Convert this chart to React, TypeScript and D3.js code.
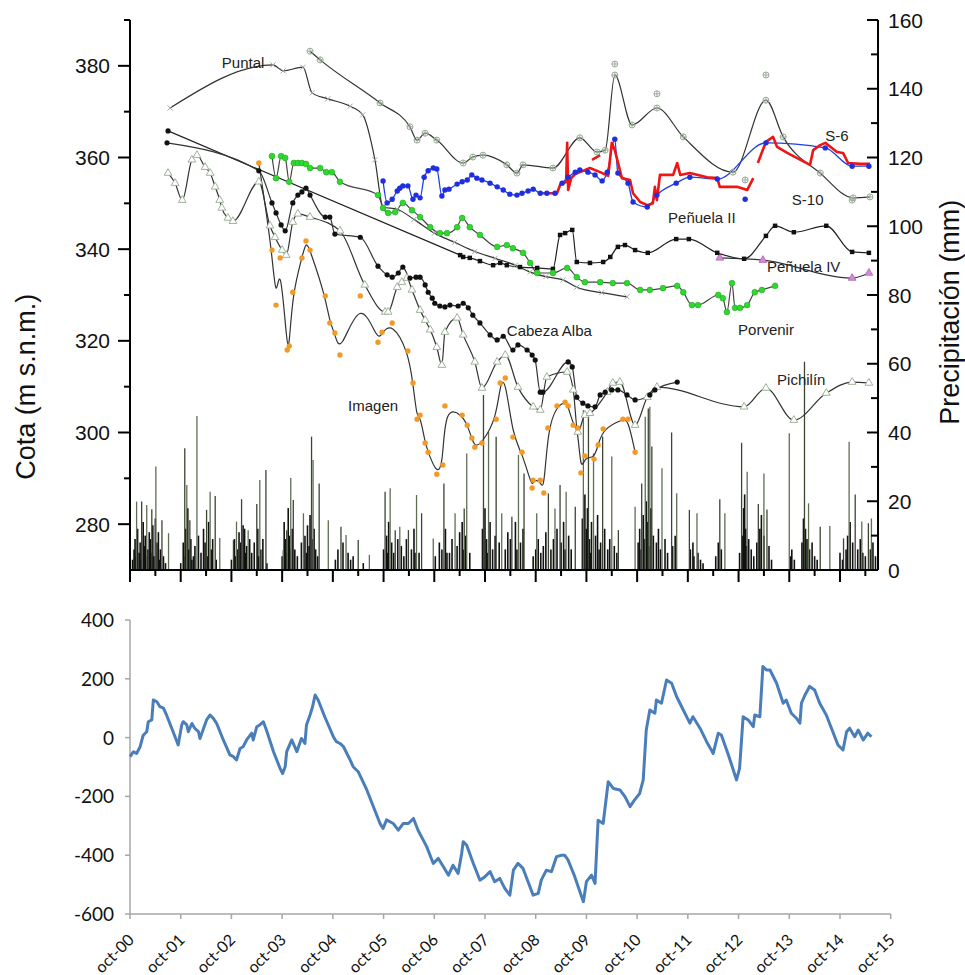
import React from 'react';
import * as d3 from 'd3';

type P = [number, number];

// time axis: years counted from oct-2000; levels in m s.n.m.
const puntal: P[] = [[0.79, 370.8], [2.82, 380.2], [3.02, 378.9], [3.41, 379.7], [3.59, 374.1], [3.9, 372.8], [4.34, 371.2], [4.59, 369.3], [4.83, 359.5], [4.99, 349.2], [5.27, 348.7], [5.6, 346.5], [6.0, 343.5], [6.4, 341.5], [6.8, 339.5], [7.2, 338.0], [7.6, 336.5], [7.89, 335.0], [8.2, 334.0], [8.54, 333.3], [8.81, 331.7], [9.3, 330.5], [9.8, 329.6]];

const s10: P[] = [[3.55, 383.2], [3.75, 381.3], [4.93, 371.9], [5.52, 366.7], [5.66, 363.8], [5.82, 365.3], [6.05, 363.8], [6.57, 358.8], [6.76, 360.1], [6.96, 360.5], [7.43, 358.4], [7.63, 356.6], [7.75, 358.4], [8.34, 357.7], [8.87, 364.3], [9.21, 361.2], [9.37, 361.6], [9.56, 378.0], [9.9, 367.1], [10.39, 370.8], [10.91, 364.5], [11.89, 356.8], [12.54, 372.5], [12.88, 364.5], [13.61, 356.6], [14.26, 351.2], [14.59, 351.4]];
const s10Extra: P[] = [[9.56, 380.4], [10.39, 373.9], [12.54, 378.0], [12.13, 355.1], [14.24, 350.7]];

const s6Manual: P[] = [[4.99, 354.9], [5.07, 350.1], [5.17, 350.9], [5.27, 352.7], [5.32, 353.3], [5.38, 353.8], [5.48, 353.8], [5.58, 350.9], [5.64, 351.8], [5.72, 351.2], [5.8, 355.7], [5.88, 357.1], [5.98, 357.7], [6.05, 357.5], [6.15, 351.6], [6.21, 352.9], [6.29, 353.1], [6.45, 354.2], [6.55, 354.7], [6.65, 355.1], [6.74, 356.2], [6.84, 355.5], [6.94, 355.1], [7.1, 354.4], [7.24, 353.6], [7.36, 352.9], [7.49, 352.0], [7.63, 351.8], [7.73, 352.2], [7.85, 352.7], [7.95, 353.1], [8.09, 352.2], [8.22, 352.2], [8.38, 352.2], [8.52, 354.4], [8.64, 355.7], [8.78, 356.8], [8.87, 357.3], [9.03, 356.8], [9.17, 356.2], [9.31, 354.9], [9.41, 356.8], [9.56, 364.0], [9.62, 356.6], [9.82, 354.4], [9.92, 350.3], [10.2, 349.2], [10.39, 351.8], [10.77, 354.4], [11.04, 355.7], [11.58, 355.3], [12.54, 363.2], [13.71, 362.1], [14.24, 358.1], [14.57, 358.1]];
const s6ManualOff: P[] = [[12.13, 350.9]];

const s6Logger: P[] = [[8.14, 352.2], [8.42, 352.2], [8.48, 354.0], [8.6, 354.7], [8.62, 363.2], [8.64, 352.9], [8.7, 355.5], [8.78, 356.4], [8.87, 356.8], [9.07, 357.7], [9.27, 356.8], [9.43, 356.0], [9.5, 363.2], [9.56, 361.6], [9.7, 355.5], [9.86, 355.1], [9.92, 352.2], [10.06, 350.3], [10.2, 349.6], [10.31, 350.0], [10.35, 353.6], [10.39, 350.7], [10.45, 356.2], [10.71, 356.2], [10.79, 358.8], [10.85, 356.2], [11.04, 356.6], [11.38, 355.7], [11.58, 355.5], [11.63, 353.6], [11.97, 353.6], [12.17, 352.9], [12.29, 355.5]];
const s6LoggerShort: P[] = [[9.11, 359.5], [9.27, 360.5]];
const s6LoggerEnd: P[] = [[12.38, 358.8], [12.54, 363.4], [12.68, 364.5], [12.76, 362.3], [12.96, 361.0], [13.41, 358.4], [13.47, 361.6], [13.61, 362.7], [13.71, 363.2], [13.94, 361.2], [14.06, 361.0], [14.16, 358.8], [14.4, 358.6], [14.59, 358.6]];

const porvenir: P[] = [[2.8, 360.3], [2.88, 355.5], [2.98, 360.3], [3.06, 359.9], [3.14, 354.7], [3.23, 358.8], [3.31, 358.8], [3.39, 358.8], [3.47, 358.6], [3.55, 357.7], [3.75, 357.7], [3.87, 356.8], [3.98, 356.8], [4.14, 354.7], [4.89, 351.8], [4.99, 349.0], [5.09, 347.9], [5.23, 348.1], [5.38, 350.1], [5.56, 348.5], [5.72, 347.0], [5.92, 344.8], [6.11, 343.5], [6.25, 343.5], [6.45, 344.8], [6.55, 346.8], [6.7, 344.8], [6.9, 343.1], [7.24, 340.5], [7.43, 340.9], [7.55, 340.2], [7.75, 339.2], [7.89, 337.0], [8.03, 334.8], [8.34, 334.8], [8.62, 335.9], [8.81, 333.9], [8.97, 332.8], [9.27, 332.8], [9.52, 332.6], [9.8, 332.6], [10.06, 331.1], [10.25, 331.1], [10.51, 331.5], [10.79, 332.0], [10.91, 330.6], [11.08, 327.8], [11.2, 327.8], [11.6, 330.0], [11.69, 329.3], [11.77, 326.3], [11.87, 332.6], [11.93, 327.2], [12.03, 327.2], [12.17, 327.8], [12.32, 330.6], [12.46, 331.1], [12.72, 332.0]];

const penuela2: P[] = [[0.75, 365.8], [6.51, 338.7], [6.57, 338.3], [6.7, 338.1], [6.9, 337.4], [7.16, 336.5], [7.3, 337.0], [7.43, 336.5], [7.69, 336.1], [8.03, 335.9], [8.34, 335.7], [8.48, 343.1], [8.58, 343.5], [8.72, 344.2], [8.81, 337.2], [9.07, 337.0], [9.33, 337.2], [9.47, 338.3], [9.62, 340.5], [9.76, 340.9], [9.96, 339.8], [10.21, 339.2], [10.77, 342.2], [11.02, 342.2], [11.58, 339.2], [12.11, 337.9], [12.54, 342.9], [12.72, 345.1], [13.09, 343.7], [13.73, 345.1], [14.24, 339.4], [14.57, 339.2]];

const penuela4: P[] = [[11.63, 338.1], [12.48, 337.6], [14.24, 333.7], [14.57, 334.8]];

const cabezaAlba: P[] = [[0.73, 363.2], [2.54, 357.1], [2.8, 350.1], [2.88, 347.9], [2.98, 345.3], [3.06, 344.0], [3.21, 350.1], [3.31, 351.8], [3.39, 352.5], [3.47, 353.3], [3.55, 351.8], [3.85, 347.0], [3.94, 347.0], [4.04, 343.3], [4.54, 342.6], [4.89, 336.3], [5.07, 334.4], [5.17, 333.9], [5.29, 334.8], [5.38, 336.1], [5.52, 333.7], [5.64, 333.9], [5.72, 333.9], [5.82, 332.2], [5.88, 330.6], [5.96, 329.3], [6.01, 328.2], [6.11, 327.6], [6.21, 327.4], [6.31, 327.8], [6.47, 327.6], [6.57, 328.2], [6.67, 327.2], [6.76, 325.6], [6.9, 323.9], [7.1, 321.3], [7.24, 320.2], [7.36, 321.0], [7.55, 318.0], [7.65, 319.1], [7.83, 318.0], [7.93, 316.9], [7.99, 315.8], [8.09, 308.8], [8.14, 308.8], [8.64, 315.4], [8.72, 314.3], [8.81, 307.7], [8.93, 306.4], [9.03, 305.8], [9.17, 305.6], [9.27, 308.2], [9.37, 308.8], [9.5, 309.3], [9.62, 309.3], [9.8, 308.2], [9.96, 307.1], [10.25, 308.2], [10.35, 309.3], [10.79, 311.0]];

const pichilin: P[] = [[0.75, 356.6], [0.89, 354.4], [1.03, 350.7], [1.22, 359.5], [1.32, 360.5], [1.48, 357.9], [1.58, 356.6], [1.68, 353.6], [1.77, 350.7], [1.81, 349.0], [1.93, 346.8], [2.03, 346.1], [2.54, 354.7], [2.76, 345.1], [2.86, 342.6], [3.0, 339.8], [3.08, 338.7], [3.21, 345.9], [3.31, 347.7], [3.55, 347.0], [4.14, 344.0], [4.63, 332.2], [5.03, 326.3], [5.09, 326.3], [5.27, 331.7], [5.36, 332.8], [5.46, 333.7], [5.56, 331.1], [5.72, 326.7], [5.82, 324.5], [5.92, 322.4], [6.05, 318.6], [6.15, 314.7], [6.21, 321.9], [6.45, 325.0], [6.57, 321.3], [6.8, 315.4], [6.94, 309.7], [7.24, 315.4], [7.4, 316.9], [7.65, 309.9], [7.95, 305.6], [8.09, 304.9], [8.22, 312.1], [8.62, 313.2], [8.74, 309.3], [8.83, 300.1], [8.97, 303.8], [9.07, 304.2], [9.41, 308.8], [9.52, 310.8], [9.66, 311.0], [9.96, 301.6], [10.2, 307.7], [10.39, 309.9], [12.11, 305.6], [12.54, 309.7], [13.09, 302.7], [13.73, 308.6], [14.24, 311.0], [14.57, 310.8]];

const imagen: P[] = [[2.54, 358.8], [2.8, 339.8], [2.88, 327.8], [2.96, 338.1], [3.1, 318.0], [3.14, 318.9], [3.21, 330.6], [3.39, 338.1], [3.47, 341.8], [3.55, 339.8], [3.85, 329.8], [3.94, 323.9], [4.04, 321.7], [4.14, 316.9], [4.54, 329.8], [4.89, 319.7], [4.97, 321.9], [5.17, 323.9], [5.48, 317.8], [5.58, 310.8], [5.66, 302.9], [5.72, 303.8], [5.82, 297.7], [5.88, 295.7], [6.05, 290.9], [6.17, 292.9], [6.21, 305.8], [6.55, 303.8], [6.65, 301.6], [6.74, 298.8], [6.8, 296.8], [6.94, 297.7], [7.22, 302.9], [7.3, 310.8], [7.4, 311.9], [7.55, 299.0], [7.73, 295.7], [7.93, 287.9], [7.95, 289.6], [8.09, 289.6], [8.16, 286.8], [8.24, 301.0], [8.42, 305.8], [8.58, 306.6], [8.64, 305.8], [8.74, 301.6], [8.83, 301.0], [8.89, 291.2], [8.97, 294.9], [9.15, 294.2], [9.23, 297.3], [9.33, 300.8], [9.72, 302.9], [9.82, 302.9], [9.96, 295.7]];

// daily rain (mm), largest events and the smaller ones of each wet season
const rainBig: P[] = [[0.13, 19.9], [0.23, 19.9], [0.33, 18.9], [0.43, 17.7], [0.51, 30.1], [0.63, 14.5], [0.76, 10.7], [1.08, 35.4], [1.12, 24.7], [1.18, 14.5], [1.32, 44.8], [1.51, 17.5], [1.58, 22.8], [1.68, 21.5], [1.77, 9.3], [2.04, 8.7], [2.1, 14.1], [2.2, 20.6], [2.33, 11.6], [2.5, 19.2], [2.56, 26.2], [2.68, 29.1], [3.02, 5.8], [3.09, 11.6], [3.17, 26.8], [3.22, 20.4], [3.42, 16.5], [3.58, 38.8], [3.61, 32.0], [3.73, 25.2], [3.91, 14.5], [4.16, 12.6], [4.26, 10.2], [4.5, 8.7], [4.72, 4.4], [5.03, 22.8], [5.13, 23.8], [5.23, 11.6], [5.32, 12.6], [5.49, 11.6], [5.65, 21.8], [5.75, 16.5], [5.98, 9.2], [6.19, 25.2], [6.41, 16.5], [6.59, 17.9], [6.64, 33.9], [6.97, 50.9], [7.07, 40.2], [7.22, 38.8], [7.33, 16.5], [7.53, 15.5], [7.66, 33.5], [7.77, 28.1], [8.02, 16.5], [8.25, 22.3], [8.38, 17.9], [8.48, 24.7], [8.6, 22.8], [8.78, 18.4], [8.94, 46.5], [9.04, 45.1], [9.14, 33.9], [9.32, 38.8], [9.5, 33.0], [9.63, 11.6], [9.96, 18.4], [10.09, 25.2], [10.16, 44.6], [10.22, 47.0], [10.25, 47.5], [10.29, 35.9], [10.49, 29.6], [10.68, 40.0], [10.78, 22.3], [11.03, 17.5], [11.18, 16.5], [11.63, 20.6], [11.73, 16.5], [12.06, 37.0], [12.17, 28.6], [12.39, 19.2], [12.5, 28.1], [12.56, 17.6], [13.0, 39.8], [13.3, 60.6], [13.38, 19.4], [13.61, 12.6], [13.8, 12.8], [14.07, 9.2], [14.18, 37.3], [14.3, 22.0], [14.43, 14.1], [14.56, 13.6], [14.62, 15.0]];

const rainSmall: P[] = [[0.05, 3], [0.08, 6], [0.1, 9], [0.12, 4], [0.15, 12], [0.18, 5], [0.2, 8], [0.22, 3], [0.26, 14], [0.28, 7], [0.3, 10], [0.32, 4], [0.35, 6], [0.38, 11], [0.4, 9], [0.42, 5], [0.45, 13], [0.47, 4], [0.5, 15], [0.53, 8], [0.56, 11], [0.58, 3], [0.6, 6], [0.66, 4], [0.7, 2],
  [1.0, 2], [1.05, 8], [1.07, 4], [1.1, 12], [1.14, 18], [1.16, 6], [1.2, 9], [1.22, 3], [1.25, 4], [1.28, 7], [1.35, 10], [1.4, 5], [1.45, 12], [1.48, 8], [1.53, 4], [1.55, 14], [1.6, 6], [1.63, 9], [1.7, 3],
  [2.0, 3], [2.06, 9], [2.08, 4], [2.12, 6], [2.15, 11], [2.18, 8], [2.23, 13], [2.26, 12], [2.28, 5], [2.3, 7], [2.36, 9], [2.4, 5], [2.45, 8], [2.52, 12], [2.54, 4], [2.58, 6], [2.62, 9], [2.7, 2],
  [3.0, 4], [3.04, 14], [3.06, 9], [3.08, 5], [3.12, 18], [3.14, 10], [3.16, 6], [3.2, 12], [3.25, 6], [3.3, 4], [3.38, 8], [3.45, 10], [3.48, 5], [3.5, 13], [3.53, 7], [3.55, 16], [3.6, 9], [3.63, 12], [3.66, 6], [3.7, 4],
  [4.05, 3], [4.1, 6], [4.2, 8], [4.3, 5], [4.35, 3], [4.4, 4], [4.6, 2],
  [5.0, 6], [5.06, 10], [5.08, 5], [5.1, 14], [5.16, 8], [5.2, 5], [5.28, 9], [5.35, 7], [5.4, 4], [5.45, 9], [5.55, 6], [5.6, 12], [5.62, 5], [5.7, 5],
  [6.02, 4], [6.1, 8], [6.15, 6], [6.22, 12], [6.25, 5], [6.3, 5], [6.35, 9], [6.45, 7], [6.5, 11], [6.55, 14], [6.57, 6], [6.62, 10], [6.7, 5],
  [6.95, 12], [7.0, 18], [7.03, 9], [7.05, 5], [7.1, 14], [7.15, 6], [7.2, 10], [7.28, 8], [7.4, 6], [7.45, 11], [7.5, 9], [7.6, 14], [7.63, 6], [7.7, 8], [7.75, 12],
  [7.95, 4], [8.0, 6], [8.05, 9], [8.1, 5], [8.15, 7], [8.2, 11], [8.3, 6], [8.35, 9], [8.42, 12], [8.5, 8], [8.55, 14], [8.58, 6], [8.65, 10], [8.7, 6],
  [8.92, 15], [8.97, 22], [9.0, 12], [9.02, 18], [9.06, 9], [9.08, 5], [9.1, 14], [9.18, 10], [9.22, 16], [9.25, 6], [9.28, 8], [9.36, 12], [9.42, 6], [9.46, 9], [9.55, 7], [9.6, 5],
  [10.02, 8], [10.05, 12], [10.08, 6], [10.12, 16], [10.15, 9], [10.18, 20], [10.2, 14], [10.24, 7], [10.27, 18], [10.32, 10], [10.38, 8], [10.42, 12], [10.46, 6], [10.55, 9], [10.6, 5], [10.7, 7], [10.75, 10],
  [11.05, 6], [11.1, 8], [11.12, 4], [11.2, 5], [11.25, 3], [11.3, 2], [11.55, 4], [11.6, 8], [11.66, 6],
  [12.02, 5], [12.08, 10], [12.1, 18], [12.12, 22], [12.14, 12], [12.16, 7], [12.2, 9], [12.25, 6], [12.3, 4], [12.36, 8], [12.42, 12], [12.45, 16], [12.5, 10], [12.6, 7], [12.65, 3],
  [13.02, 4], [13.05, 6], [13.1, 3], [13.25, 8], [13.28, 15], [13.32, 12], [13.35, 9], [13.4, 6], [13.45, 8], [13.5, 4], [13.55, 3],
  [14.0, 5], [14.05, 3], [14.12, 6], [14.15, 10], [14.2, 14], [14.25, 8], [14.35, 6], [14.4, 9], [14.45, 5], [14.5, 4], [14.6, 6], [14.65, 8], [14.7, 4]];

// cumulative rainfall deviation (mm)
const cumDev: P[] = [[0, -65], [0.07, -48], [0.13, -54], [0.2, -31], [0.26, 8], [0.33, 20], [0.36, 54], [0.43, 60], [0.46, 128], [0.53, 122], [0.59, 105], [0.66, 100], [0.72, 77], [0.85, 20], [0.95, -25], [1.02, 43], [1.05, 54], [1.12, 43], [1.15, 20], [1.22, 48], [1.28, 31], [1.35, 20], [1.38, -3], [1.45, 31], [1.51, 60], [1.58, 77], [1.64, 66], [1.71, 48], [1.84, -8], [1.97, -59], [2.04, -65], [2.1, -76], [2.17, -37], [2.23, -31], [2.3, -8], [2.4, 15], [2.43, -8], [2.5, 37], [2.56, 43], [2.63, 54], [2.69, 26], [2.83, -48], [2.96, -105], [3.01, -122], [3.06, -99], [3.09, -48], [3.19, -8], [3.29, -48], [3.38, -3], [3.45, -20], [3.48, 43], [3.55, 77], [3.6, 105], [3.65, 145], [3.71, 128], [3.84, 71], [4.01, 3], [4.07, -14], [4.14, -20], [4.21, -31], [4.34, -76], [4.4, -99], [4.5, -116], [4.67, -178], [4.8, -235], [4.93, -292], [4.99, -309], [5.06, -280], [5.19, -292], [5.29, -315], [5.39, -292], [5.49, -292], [5.59, -275], [5.68, -315], [5.85, -371], [5.98, -428], [6.08, -411], [6.18, -439], [6.28, -468], [6.37, -434], [6.47, -462], [6.54, -394], [6.57, -354], [6.64, -366], [6.77, -428], [6.9, -485], [7.0, -473], [7.1, -456], [7.19, -490], [7.29, -479], [7.39, -513], [7.49, -536], [7.56, -451], [7.65, -428], [7.75, -445], [7.95, -536], [8.05, -530], [8.11, -485], [8.21, -451], [8.31, -456], [8.41, -405], [8.51, -400], [8.57, -400], [8.64, -417], [8.77, -473], [8.94, -558], [9.0, -490], [9.1, -468], [9.17, -496], [9.23, -281], [9.33, -292], [9.43, -150], [9.53, -173], [9.66, -178], [9.76, -201], [9.86, -235], [9.95, -212], [10.05, -190], [10.12, -144], [10.18, 26], [10.25, 94], [10.35, 83], [10.38, 128], [10.48, 117], [10.58, 196], [10.68, 185], [10.78, 139], [10.91, 94], [11.04, 49], [11.1, 71], [11.24, 32], [11.37, -14], [11.5, -54], [11.6, 15], [11.66, 9], [11.79, -54], [11.96, -144], [12.02, -105], [12.09, 71], [12.19, 60], [12.29, 37], [12.32, 77], [12.42, 71], [12.48, 242], [12.55, 230], [12.62, 230], [12.75, 185], [12.88, 117], [12.94, 128], [13.04, 83], [13.14, 66], [13.21, 49], [13.24, 117], [13.31, 145], [13.4, 174], [13.5, 162], [13.6, 117], [13.73, 77], [13.96, -25], [14.06, -42], [14.13, 20], [14.19, 32], [14.29, 3], [14.36, 26], [14.46, -8], [14.55, 15], [14.62, 3]];

const yearLabels = ['oct-00', 'oct-01', 'oct-02', 'oct-03', 'oct-04', 'oct-05', 'oct-06', 'oct-07', 'oct-08', 'oct-09', 'oct-10', 'oct-11', 'oct-12', 'oct-13', 'oct-14', 'oct-15'];

const ARIAL = '"Liberation Sans", Arial, sans-serif';
const CALIBRI = 'Lato, "Open Sans", sans-serif';

const tri = d3.symbol().type(d3.symbolTriangle).size(26)() as string;
const sq = d3.symbol().type(d3.symbolSquare).size(20)() as string;

export default function App() {
  const x = d3.scaleLinear().domain([0, 15]).range([130, 890.7]);
  const yL = d3.scaleLinear().domain([270, 390]).range([570, 20]);
  const yR = d3.scaleLinear().domain([0, 160]).range([570, 20]);
  const yB = d3.scaleLinear().domain([-600, 400]).range([914, 620]);
  const xEnd = 14.75;

  const lvl = (curve: d3.CurveFactory = d3.curveMonotoneX) =>
    d3.line<P>().x((d) => x(d[0])).y((d) => yL(d[1])).curve(curve);
  const at = (d: P) => `translate(${x(d[0])},${yL(d[1])})`;
  const devLine = d3.line<P>().x((d) => x(d[0])).y((d) => yB(d[1]));

  const label = (txt: string, t: number, v: number) => (
    <text key={txt} x={x(t)} y={yL(v)} fontSize={15} fontFamily={ARIAL} fill="#222">{txt}</text>
  );

  return (
    <svg width={965} height={975} style={{ position: 'absolute', left: 0, top: 0, background: '#fff' }}>
      {/* rain bars */}
      <g>
        {rainSmall.map((d, i) => (
          <line key={`s${i}`} x1={x(d[0])} x2={x(d[0])} y1={yR(0)} y2={yR(d[1])} stroke="#111" strokeWidth={1.6} />
        ))}
        {rainBig.map((d, i) => (
          <line key={`b${i}`} x1={x(d[0])} x2={x(d[0])} y1={yR(0)} y2={yR(d[1])} stroke={i % 2 ? '#3a4532' : '#5d6e52'} strokeWidth={1.3} />
        ))}
      </g>

      {/* level lines */}
      <g fill="none">
        <path d={lvl()(puntal) as string} stroke="#333" strokeWidth={1.2} />
        <path d={lvl()(s10) as string} stroke="#333" strokeWidth={1.2} />
        <path d={lvl()(porvenir) as string} stroke="#444" strokeWidth={1.2} />
        <path d={lvl(d3.curveLinear)(penuela2.slice(0, 2)) as string} stroke="#222" strokeWidth={1.2} />
        <path d={lvl()(penuela2.slice(1)) as string} stroke="#222" strokeWidth={1.2} />
        <path d={lvl()(penuela4) as string} stroke="#333" strokeWidth={1.2} />
        <path d={lvl()(cabezaAlba) as string} stroke="#333" strokeWidth={1.2} />
        <path d={lvl()(pichilin) as string} stroke="#333" strokeWidth={1.2} />
        <path d={lvl(d3.curveBasis)(imagen) as string} stroke="#333" strokeWidth={1.2} />
        <path d={lvl()(s6Manual) as string} stroke="#1f3fe0" strokeWidth={1.3} />
        <path d={lvl(d3.curveLinear)(s6Logger) as string} stroke="#ee1515" strokeWidth={2.6} strokeLinejoin="round" />
        <path d={lvl(d3.curveLinear)(s6LoggerShort) as string} stroke="#ee1515" strokeWidth={2.6} />
        <path d={lvl(d3.curveLinear)(s6LoggerEnd) as string} stroke="#ee1515" strokeWidth={2.6} strokeLinejoin="round" />
      </g>

      {/* markers */}
      <g>
        {puntal.map((d, i) => (
          <path key={`p${i}`} transform={at(d)} d="M-2.5,-2.5L2.5,2.5M-2.5,2.5L2.5,-2.5" stroke="#9aab98" strokeWidth={1} />
        ))}
        {s10.concat(s10Extra).map((d, i) => (
          <g key={`t${i}`} transform={at(d)} stroke="#9aab98" strokeWidth={1} fill="none">
            <circle r={3} />
            <path d="M-3,0H3M0,-3V3" />
          </g>
        ))}
        {pichilin.map((d, i) => (
          <path key={`pi${i}`} transform={at(d)} d={tri} fill="#fff" stroke="#9fb39a" strokeWidth={1} />
        ))}
        {penuela4.map((d, i) => (
          <path key={`p4${i}`} transform={at(d)} d={tri} fill="#d58ad8" stroke="#b060b5" strokeWidth={0.8} />
        ))}
        {penuela2.slice(1).map((d, i) => (
          <path key={`p2${i}`} transform={at(d)} d={sq} fill="#111" />
        ))}
        <circle cx={x(penuela2[0][0])} cy={yL(penuela2[0][1])} r={2.6} fill="#111" />
        {cabezaAlba.map((d, i) => (
          <circle key={`c${i}`} cx={x(d[0])} cy={yL(d[1])} r={2.6} fill="#111" />
        ))}
        {porvenir.map((d, i) => (
          <circle key={`g${i}`} cx={x(d[0])} cy={yL(d[1])} r={2.9} fill="#2fd82f" stroke="#1eaa1e" strokeWidth={0.6} />
        ))}
        {imagen.map((d, i) => (
          <circle key={`o${i}`} cx={x(d[0])} cy={yL(d[1])} r={2.7} fill="#f39a26" />
        ))}
        {s6Manual.concat(s6ManualOff).map((d, i) => (
          <circle key={`bl${i}`} cx={x(d[0])} cy={yL(d[1])} r={2.7} fill="#1f2fe0" />
        ))}
      </g>

      {/* well labels */}
      <g>
        {label('Puntal', 1.81, 379.5)}
        {label('S-6', 13.71, 363.6)}
        {label('S-10', 13.05, 349.6)}
        {label('Peñuela II', 10.61, 345.7)}
        {label('Peñuela IV', 12.56, 335.0)}
        {label('Porvenir', 11.99, 321.3)}
        {label('Pichilín', 12.76, 310.4)}
        {label('Cabeza Alba', 7.43, 321.0)}
        {label('Imagen', 4.3, 304.7)}
      </g>

      {/* top axes */}
      <g stroke="#000" strokeWidth={2} fill="none">
        <line x1={x(0)} x2={x(0)} y1={yL(390)} y2={yL(270)} />
        <line x1={x(xEnd)} x2={x(xEnd)} y1={yR(160)} y2={yR(0)} />
        <line x1={x(0)} x2={x(xEnd)} y1={yL(270)} y2={yL(270)} />
        {d3.range(280, 381, 20).map((v) => <line key={`lM${v}`} x1={x(0) - 12} x2={x(0)} y1={yL(v)} y2={yL(v)} />)}
        {d3.range(290, 391, 20).map((v) => <line key={`lm${v}`} x1={x(0) - 6} x2={x(0)} y1={yL(v)} y2={yL(v)} />)}
        {d3.range(0, 161, 20).map((v) => <line key={`rM${v}`} x1={x(xEnd) - 11} x2={x(xEnd)} y1={yR(v)} y2={yR(v)} />)}
        {d3.range(10, 151, 20).map((v) => <line key={`rm${v}`} x1={x(xEnd) - 7} x2={x(xEnd)} y1={yR(v)} y2={yR(v)} />)}
        {d3.range(0, 15).map((t) => <line key={`xM${t}`} x1={x(t)} x2={x(t)} y1={yL(270)} y2={yL(270) + 12} />)}
        {d3.range(0.5, xEnd, 1).map((t) => <line key={`xm${t}`} x1={x(t)} x2={x(t)} y1={yL(270)} y2={yL(270) + 6} />)}
      </g>
      <g fontFamily={ARIAL} fontSize={21} fill="#111">
        {d3.range(280, 381, 20).map((v) => (
          <text key={`lt${v}`} x={110} y={yL(v) + 7.5} textAnchor="end">{v}</text>
        ))}
        {d3.range(0, 161, 20).map((v) => (
          <text key={`rt${v}`} x={888} y={yR(v) + 7.5}>{v}</text>
        ))}
      </g>
      <text transform={`translate(35,${yL(310)}) rotate(-90)`} textAnchor="middle" fontFamily={ARIAL} fontSize={27} fill="#111">Cota (m s.n.m.)</text>
      <text transform={`translate(959,${yR(75)}) rotate(-90)`} textAnchor="middle" fontFamily={ARIAL} fontSize={27} fill="#111">Precipitación (mm)</text>

      {/* cumulative deviation chart */}
      <g stroke="#a6a6a6" strokeWidth={1.5} fill="none">
        <line x1={x(0)} x2={x(0)} y1={yB(400)} y2={yB(-600)} />
        <line x1={x(0)} x2={x(15)} y1={yB(-600)} y2={yB(-600)} />
        {d3.range(-600, 401, 200).map((v) => <line key={`by${v}`} x1={x(0) - 5} x2={x(0)} y1={yB(v)} y2={yB(v)} />)}
        {d3.range(0, 16).map((t) => <line key={`bx${t}`} x1={x(t)} x2={x(t)} y1={yB(-600)} y2={yB(-600) + 5} />)}
      </g>
      <path d={devLine(cumDev) as string} fill="none" stroke="#4a7ebb" strokeWidth={3} strokeLinejoin="round" />
      <g fontFamily={CALIBRI} fill="#111">
        {d3.range(-600, 401, 200).map((v) => (
          <text key={`bt${v}`} x={114} y={yB(v) + 7} textAnchor="end" fontSize={19}>{v}</text>
        ))}
        {yearLabels.map((s, i) => (
          <text key={s} transform={`translate(${x(i) + 5},941) rotate(-45)`} textAnchor="end" fontSize={16}>{s}</text>
        ))}
      </g>
    </svg>
  );
}
